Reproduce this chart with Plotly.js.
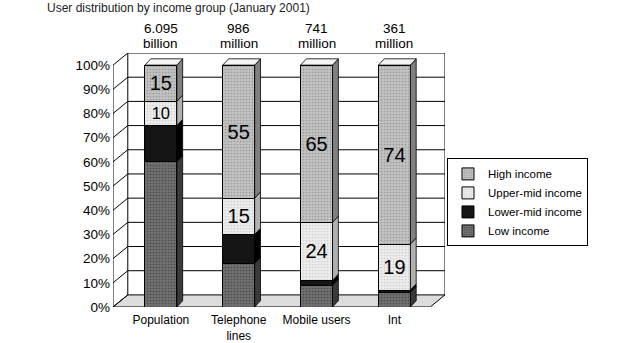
<!DOCTYPE html>
<html><head><meta charset="utf-8">
<script src="https://cdn.plot.ly/plotly-3.0.1.min.js"></script>
<style>html,body{margin:0;padding:0;background:#fff}</style>
</head><body><div id="chart" style="width:627px;height:343px"></div>
<script>
const categories = ["Population", "Telephone<br>lines", "Mobile users", "Int"];
const totalValues = ["6.095", "986", "741", "361"];
const totalUnits = ["billion", "million", "million", "million"];
const lowIncome = [60, 18, 9, 6];
const lowerMidIncome = [15, 12, 2, 1];
const upperMidIncome = [10, 15, 24, 19];
const highIncome = [15, 55, 65, 74];
const yTicks = [0,10,20,30,40,50,60,70,80,90,100];

const series = [
  {name: "Low income", v: lowIncome, color: "#707070", side: "#3a3a3a", fg: "#4a4a4a", label: false},
  {name: "Lower-mid income", v: lowerMidIncome, color: "#151515", side: "#000000", fg: "#151515", label: false},
  {name: "Upper-mid income", v: upperMidIncome, color: "#ededed", side: "#b0b0b0", fg: "#d0d0d0", label: true},
  {name: "High income", v: highIncome, color: "#c2c2c2", side: "#808080", fg: "#9a9a9a", label: true}
];
const xs = categories.map((c, i) => i);
const W = 0.41, DX = 0.075, DY = 2.6;   // bar width, depth offsets
const WX = 0.19, WY = 5;                 // wall depth
const XL = -0.615, XR = 3.46;

const traces = series.map(s => ({
  type: "bar", x: xs, y: s.v, name: s.name, width: W,
  text: s.label ? s.v.map(String) : null,
  textposition: s.label ? "inside" : "none",
  insidetextanchor: "middle",
  textfont: {size: 20, color: "#000", family: "Liberation Sans, Arial"},
  marker: {color: s.color, line: {color: "#000", width: 1},
    pattern: {shape: ".", fgcolor: s.fg, bgcolor: s.color, size: 3, solidity: 0.25}},
  hoverinfo: "skip"
}));

const shapes = [];
shapes.push({type: "path", layer: "below", xref: "x", yref: "y",
  path: `M ${XL},0 L ${XR},0 L ${XR+WX},${WY} L ${XL+WX},${WY} Z`,
  fillcolor: "#dcdcdc", line: {color: "#000", width: 1}});
yTicks.forEach(t => {
  if (t > 0) shapes.push({type: "line", layer: "below", xref: "x", yref: "y",
    x0: XL+WX, x1: XR+WX, y0: t+WY, y1: t+WY, line: {color: "#000", width: 1}});
  shapes.push({type: "line", layer: "below", xref: "x", yref: "y",
    x0: XL, x1: XL+WX, y0: t, y1: t+WY, line: {color: "#000", width: 1}});
});
shapes.push({type: "line", layer: "below", xref: "x", yref: "y",
  x0: XL, x1: XL, y0: 0, y1: 100, line: {color: "#000", width: 1}});
shapes.push({type: "line", layer: "below", xref: "x", yref: "y",
  x0: XL+WX, x1: XL+WX, y0: WY, y1: 100+WY, line: {color: "#000", width: 1}});
shapes.push({type: "line", layer: "below", xref: "x", yref: "y",
  x0: XR+WX, x1: XR+WX, y0: WY, y1: 100+WY, line: {color: "#000", width: 1}});
xs.forEach(i => {
  let base = 0;
  series.forEach(s => {
    const top = base + s.v[i];
    const xr = i + W/2;
    shapes.push({type: "path", layer: "above", xref: "x", yref: "y",
      path: `M ${xr},${base} L ${xr+DX},${base+DY} L ${xr+DX},${top+DY} L ${xr},${top} Z`,
      fillcolor: s.side, line: {color: "#000", width: 0.8}});
    base = top;
  });
  const xl = i - W/2, xr = i + W/2;
  shapes.push({type: "path", layer: "above", xref: "x", yref: "y",
    path: `M ${xl},${base} L ${xr},${base} L ${xr+DX},${base+DY} L ${xl+DX},${base+DY} Z`,
    fillcolor: "#f4f4f4", line: {color: "#000", width: 0.8}});
});

const annotations = [];
xs.forEach(i => {
  annotations.push({x: i, y: 100, xref: "x", yref: "y", yanchor: "middle", yshift: 37,
    text: totalValues[i], showarrow: false,
    font: {size: 13.5, color: "#000", family: "Liberation Sans, Arial"}});
  annotations.push({x: i, y: 100, xref: "x", yref: "y", yanchor: "middle", yshift: 22,
    text: totalUnits[i], showarrow: false,
    font: {size: 13.5, color: "#000", family: "Liberation Sans, Arial"}});
});
annotations.push({xref: "paper", yref: "paper", x: -0.205, y: 1.178, xanchor: "left", yanchor: "middle",
  text: "User distribution by income group (January 2001)", showarrow: false,
  font: {size: 12, color: "#222", family: "Liberation Sans, Arial"}});

const layout = {
  width: 627, height: 343,
  margin: {l: 113, r: 627-445, t: 53, b: 36},
  paper_bgcolor: "#fff", plot_bgcolor: "rgba(0,0,0,0)",
  barmode: "stack",
  font: {family: "Liberation Sans, Arial", color: "#000", size: 12},
  showlegend: true,
  legend: {x: 1.006, y: 0.585, xanchor: "left", yanchor: "top", traceorder: "reversed",
    bordercolor: "#000", borderwidth: 1, bgcolor: "#fff", itemwidth: 30,
    font: {size: 11.5, color: "#000"}},
  xaxis: {range: [XL, XR+WX], tickvals: xs, ticktext: categories, showgrid: false,
    zeroline: false, showline: false, ticks: "", tickfont: {size: 12}, ticklabelstandoff: 4},
  yaxis: {range: [0, 105], tickvals: yTicks, ticktext: yTicks.map(t => t + "%"),
    showgrid: false, zeroline: false, showline: false, ticks: "", tickfont: {size: 13.5},
    ticklabelstandoff: 2},
  shapes: shapes, annotations: annotations
};
Plotly.newPlot("chart", traces, layout, {staticPlot: true});
</script></body></html>
